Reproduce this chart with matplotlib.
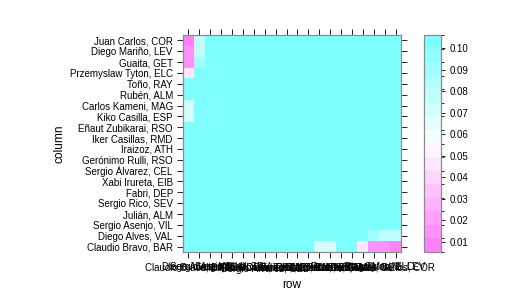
import numpy as np
import colorsys
import matplotlib
matplotlib.use("Agg")
import matplotlib.pyplot as plt
from matplotlib.colors import ListedColormap, BoundaryNorm

plt.rcParams['font.family'] = ['Liberation Sans', 'DejaVu Sans']

# players, bottom-to-top on the y axis and left-to-right on the x axis
players = ["Claudio Bravo, BAR", "Diego Alves, VAL", "Sergio Asenjo, VIL",
           "Julián, ALM", "Sergio Rico, SEV", "Fabri, DEP", "Xabi Irureta, EIB",
           "Sergio Álvarez, CEL", "Gerónimo Rulli, RSO", "Iraizoz, ATH",
           "Iker Casillas, RMD", "Eñaut Zubikarai, RSO", "Kiko Casilla, ESP",
           "Carlos Kameni, MAG", "Rubén, ALM", "Toño, RAY",
           "Przemyslaw Tyton, ELC", "Guaita, GET", "Diego Mariño, LEV",
           "Juan Carlos, COR"]

# values against Claudio Bravo and Diego Alves; every other pair sits at 0.10
claudio_bravo = [0.10, 0.10, 0.10, 0.10, 0.10, 0.10, 0.10, 0.10, 0.10, 0.10,
                 0.10, 0.10, 0.073, 0.073, 0.10, 0.10, 0.046, 0.016, 0.012, 0.0114]
diego_alves = [0.10, 0.10, 0.10, 0.10, 0.10, 0.10, 0.10, 0.10, 0.10, 0.10,
               0.10, 0.10, 0.10, 0.10, 0.10, 0.10, 0.10, 0.089, 0.076, 0.076]
other_value = 0.10

n = len(players)
z = np.full((n, n), other_value)
z[0, :] = claudio_bravo
z[:, 0] = claudio_bravo
z[1, :] = diego_alves
z[:, 1] = diego_alves
z[0, 1] = z[1, 0] = diego_alves[0]

# lattice-style breaks: extended range, 16 intervals
lo, hi = z.min(), z.max()
pad = 0.07 * (hi - lo)
breaks = np.linspace(lo - pad, hi + pad, 17)

# rev(cm.colors(100)) from R
base = []
for m in range(1, 101):
    if m <= 50:
        base.append(colorsys.hsv_to_rgb(6 / 12, 0.5 - (m - 1) * 0.01, 1))
    else:
        base.append(colorsys.hsv_to_rgb(10 / 12, 0.01 * (m - 50), 1))
base = base[::-1]
idx = np.round(np.linspace(0, 99, 16)).astype(int)
cmap = ListedColormap([base[i] for i in idx])
norm = BoundaryNorm(breaks, cmap.N)

fig = plt.figure(figsize=(5.18, 3.04), dpi=100)
W, H = 518, 304
ax = fig.add_axes([183 / W, (H - 252) / H, 218 / W, 217 / H])
mesh = ax.pcolormesh(np.arange(n + 1) + 0.5, np.arange(n + 1) + 0.5, z.T,
                     cmap=cmap, norm=norm)
ax.set_xlim(0.5, n + 0.5)
ax.set_ylim(0.5, n + 0.5)
ax.set_xticks(np.arange(1, n + 1))
ax.set_yticks(np.arange(1, n + 1))
ax.set_xticklabels(players, fontsize=7)
ax.set_yticklabels(players, fontsize=7)
ax.tick_params(direction='out', top=True, right=True, length=4.3, width=0.6,
               pad=3, colors='black')
for s in ax.spines.values():
    s.set_color('#8c8c8c')
    s.set_linewidth(0.9)
ax.set_xlabel("row", fontsize=8.6, labelpad=4)
ax.set_ylabel("column", fontsize=8.6, labelpad=3)

cax = fig.add_axes([424 / W, (H - 252) / H, 17 / W, 217 / H])
cb = fig.colorbar(mesh, cax=cax, boundaries=breaks, ticks=np.arange(0.01, 0.101, 0.01))
cb.ax.set_yticklabels(["%.2f" % t for t in np.arange(0.01, 0.101, 0.01)])
cb.ax.tick_params(labelsize=7, length=3, width=0.6, pad=3)
cb.outline.set_edgecolor('#8c8c8c')
cb.outline.set_linewidth(0.9)

fig.savefig("out.png", dpi=100)
